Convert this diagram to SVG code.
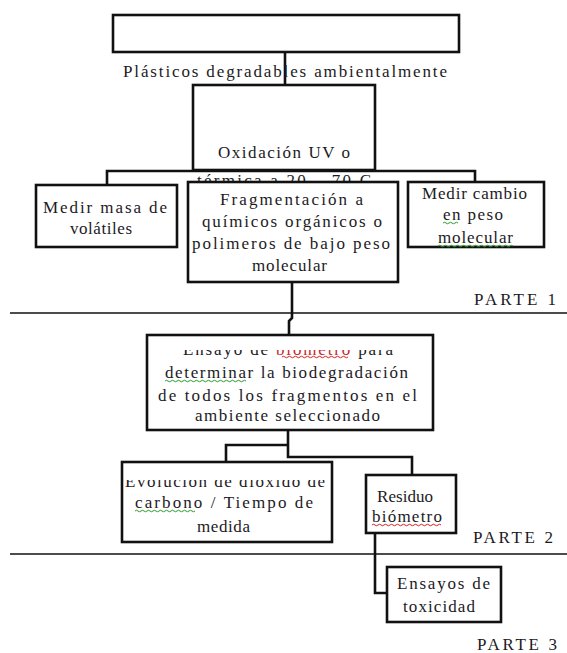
<svg xmlns="http://www.w3.org/2000/svg" width="567" height="653" viewBox="0 0 567 653">
<style>
.box{fill:#fff;stroke:#111;stroke-width:2.6}
text{font-family:"Liberation Serif",serif;font-size:17px;fill:#1c1a1e}
.c{fill:none;stroke:#111;stroke-width:2.6}
.sep{fill:none;stroke:#111;stroke-width:1.6}
.sqr{fill:none;stroke:#d42020;stroke-width:1}
.sqg{fill:none;stroke:#2a9a2a;stroke-width:1}
</style>
<defs>
<clipPath id="clipEns"><rect x="140" y="350" width="300" height="20"/></clipPath>
<clipPath id="clipEvo"><rect x="120" y="480" width="215" height="20"/></clipPath>
</defs>
<rect width="567" height="653" fill="#fff"/>
<g id="connectors">
<path class="c" d="M285 52V85"/>
<path class="c" d="M107 185V171H475V182"/>
<path class="c" d="M292 282V318L289 321V335"/>
<path class="c" d="M288 430V457H412V475"/>
<path class="c" d="M288 445H226V462"/>
<path class="c" d="M375 533V593H387"/>
</g>
<g id="separators">
<path class="sep" d="M10 313H567"/>
<path class="sep" d="M10 554H567"/>
</g>
<g font-family="Liberation Serif" font-size="17">
<g id="n-top">
<rect class="box" x="113" y="15" width="346" height="37"/>
<text x="123" y="77" textLength="324" lengthAdjust="spacing">Plásticos degradables ambientalmente</text>
</g>
<g id="n-oxidacion">
<rect class="box" x="193" y="85" width="182" height="85"/>
<text x="218" y="158" textLength="132" lengthAdjust="spacing">Oxidación UV o</text>
<text x="197" y="186" textLength="174" lengthAdjust="spacing">térmica a 20 – 70 C</text>
</g>
<g id="n-volatiles">
<rect class="box" x="36" y="185" width="141" height="62"/>
<text x="43" y="213" textLength="124" lengthAdjust="spacing">Medir masa de</text>
<text x="70" y="234" textLength="62" lengthAdjust="spacing">volátiles</text>
</g>
<g id="n-fragmentacion">
<rect class="box" x="188" y="182" width="210" height="100"/>
<text x="220" y="205" textLength="143" lengthAdjust="spacing">Fragmentación a</text>
<text x="202" y="227" textLength="180" lengthAdjust="spacing">químicos orgánicos o</text>
<text x="192" y="249" textLength="198" lengthAdjust="spacing">polimeros de bajo peso</text>
<text x="252" y="271" textLength="75" lengthAdjust="spacing">molecular</text>
</g>
<g id="n-peso">
<rect class="box" x="408" y="182" width="136" height="65"/>
<text x="422" y="199" textLength="105" lengthAdjust="spacing">Medir cambio</text>
<text x="443" y="220" textLength="60" lengthAdjust="spacing">en peso</text>
<path class="sqg" d="M443 223q1.5 -1.5 3 0t3 0t3 0t3 0t3 0"/>
<text x="438" y="243" textLength="75" lengthAdjust="spacing">molecular</text>
<path class="sqg" d="M438 246q1.5 -1.5 3 0t3 0t3 0t3 0t3 0t3 0t3 0t3 0t3 0t3 0t3 0t3 0t3 0t3 0t3 0t3 0t3 0t3 0t3 0t3 0t3 0t3 0t3 0t3 0t3 0"/>
</g>
<text x="474" y="305" textLength="82" lengthAdjust="spacing">PARTE 1</text>
<g id="n-ensayo">
<rect class="box" x="147" y="335" width="286" height="95"/>
<g clip-path="url(#clipEns)">
<text x="183" y="355" textLength="210" lengthAdjust="spacing">Ensayo de <tspan fill="#c82828">biómetro</tspan> para</text>
<path class="sqr" d="M282 357q1.5 -1.5 3 0t3 0t3 0t3 0t3 0t3 0t3 0t3 0t3 0t3 0t3 0t3 0t3 0t3 0t3 0t3 0t3 0t3 0t3 0t3 0t3 0t3 0"/>
</g>
<text x="165" y="378" textLength="243" lengthAdjust="spacing">determinar la biodegradación</text>
<path class="sqg" d="M165 381q1.5 -1.5 3 0t3 0t3 0t3 0t3 0t3 0t3 0t3 0t3 0t3 0t3 0t3 0t3 0t3 0t3 0t3 0t3 0t3 0t3 0t3 0t3 0t3 0t3 0t3 0t3 0t3 0t3 0"/>
<text x="158" y="401" textLength="259" lengthAdjust="spacing">de todos los fragmentos en el</text>
<text x="195" y="421" textLength="185" lengthAdjust="spacing">ambiente seleccionado</text>
</g>
<g id="n-evolucion">
<rect class="box" x="122" y="462" width="210" height="80"/>
<g clip-path="url(#clipEvo)">
<text x="125" y="487" textLength="200" lengthAdjust="spacing">Evolución de dióxido de</text>
</g>
<text x="135" y="508" textLength="178" lengthAdjust="spacing">carbono / Tiempo de</text>
<path class="sqg" d="M135 511q1.5 -1.5 3 0t3 0t3 0t3 0t3 0t3 0t3 0t3 0t3 0t3 0t3 0t3 0t3 0t3 0t3 0t3 0t3 0t3 0t3 0t3 0"/>
<text x="197" y="532" textLength="53" lengthAdjust="spacing">medida</text>
</g>
<g id="n-residuo">
<rect class="box" x="366" y="475" width="90" height="58"/>
<text x="377" y="502" textLength="56" lengthAdjust="spacing">Residuo</text>
<text x="372" y="522" textLength="70" lengthAdjust="spacing">biómetro</text>
<path class="sqr" d="M372 525q1.5 -1.5 3 0t3 0t3 0t3 0t3 0t3 0t3 0t3 0t3 0t3 0t3 0t3 0t3 0t3 0t3 0t3 0t3 0t3 0t3 0t3 0t3 0t3 0t3 0"/>
</g>
<text x="473" y="543" textLength="80" lengthAdjust="spacing">PARTE 2</text>
<g id="n-toxicidad">
<rect class="box" x="387" y="567" width="114" height="55"/>
<text x="397" y="589" textLength="93" lengthAdjust="spacing">Ensayos de</text>
<text x="403" y="612" textLength="72" lengthAdjust="spacing">toxicidad</text>
</g>
<text x="477" y="650" textLength="80" lengthAdjust="spacing">PARTE 3</text>
</g>
</svg>
